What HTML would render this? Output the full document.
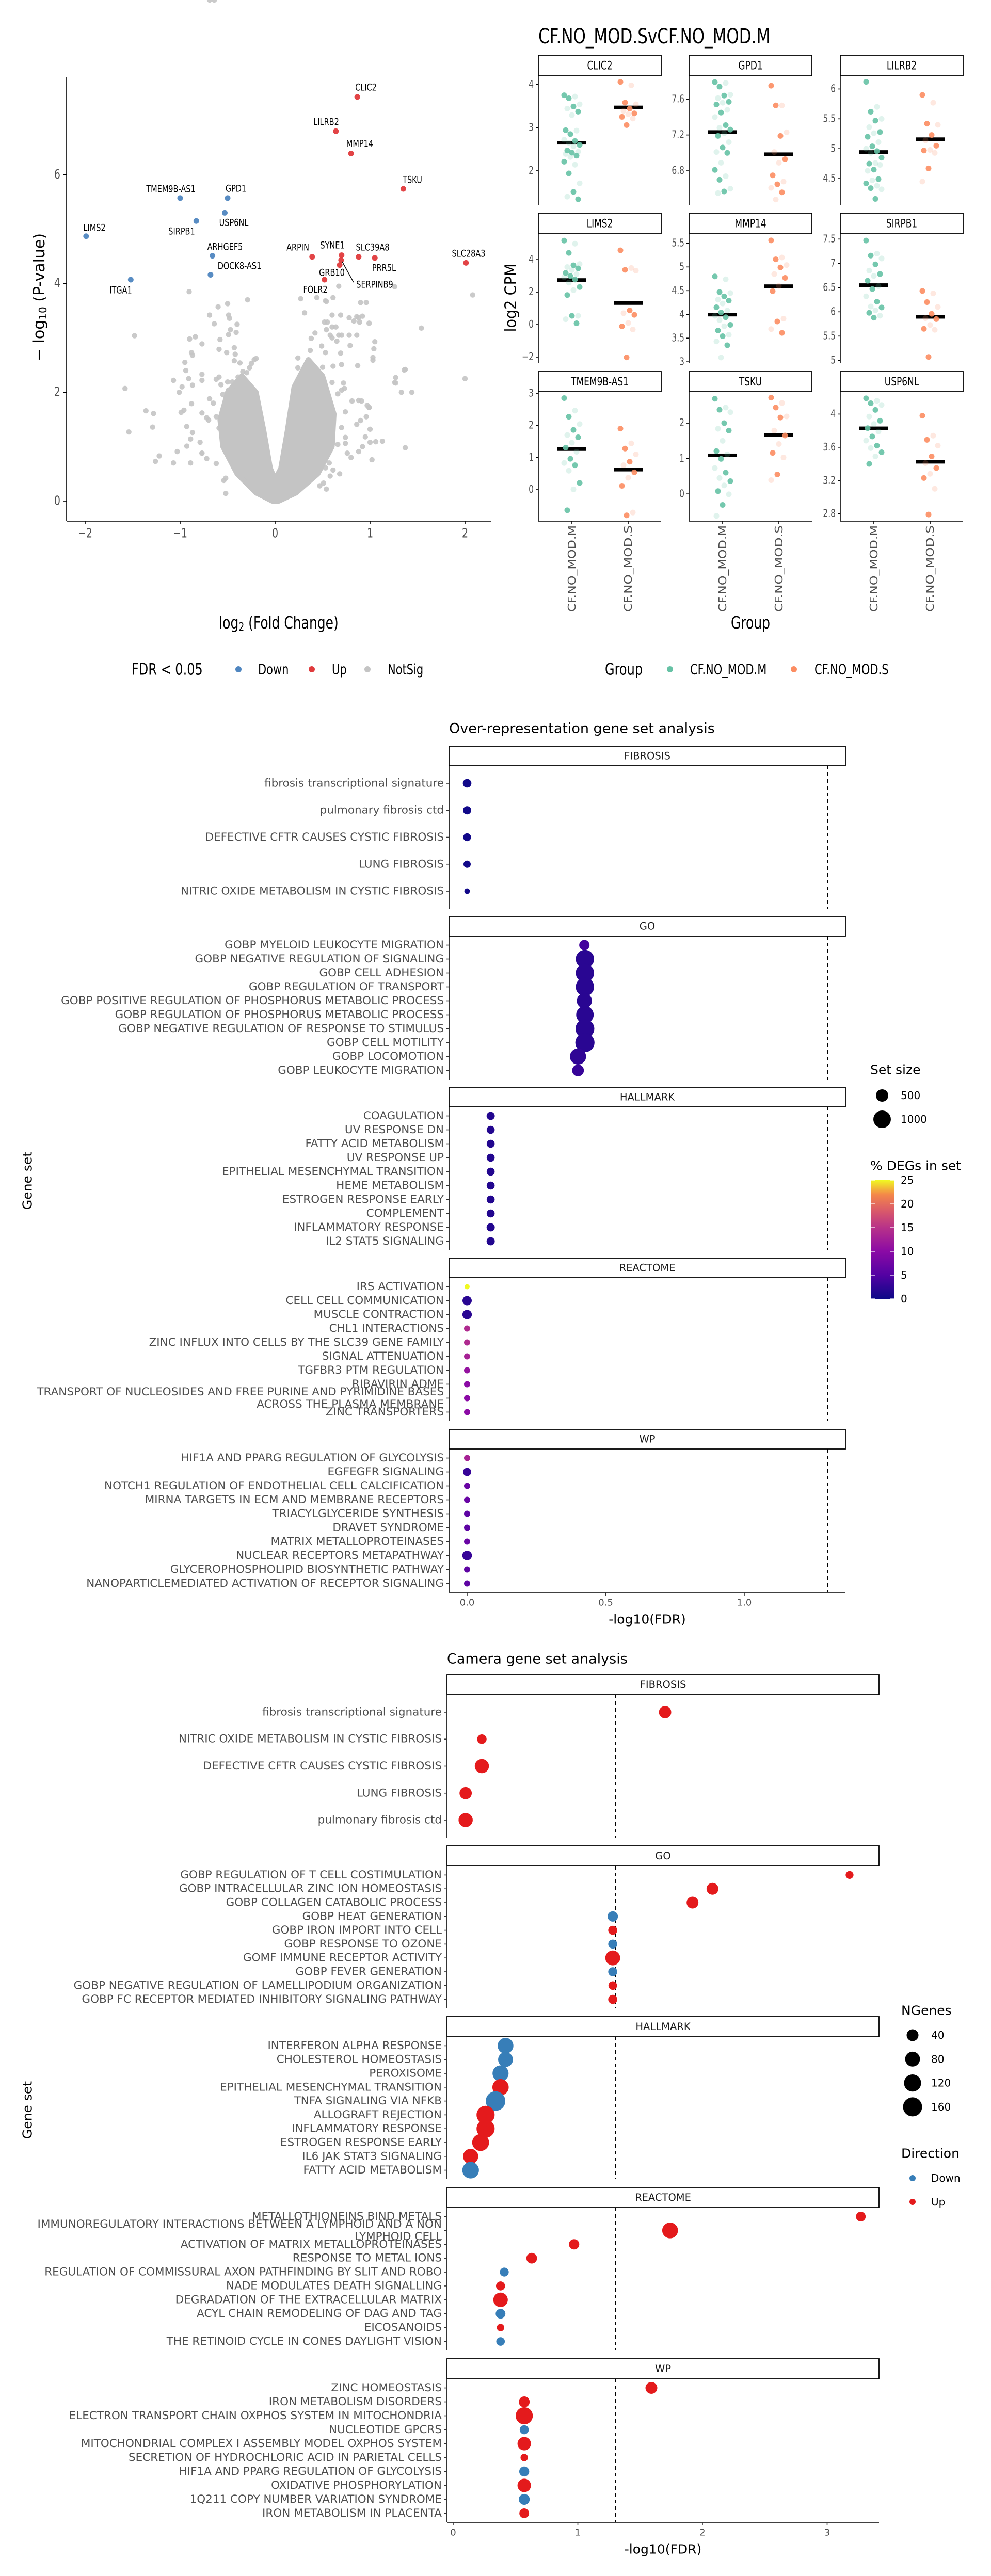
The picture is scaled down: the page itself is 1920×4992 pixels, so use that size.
<!DOCTYPE html>
<html><head><meta charset="utf-8">
<style>
html,body{margin:0;padding:0;background:#fff;}
svg{display:block;font-family:"DejaVu Sans","Liberation Sans",sans-serif;}
</style></head>
<body>
<svg id="fig" xmlns="http://www.w3.org/2000/svg" width="1920" height="4992" viewBox="0 0 1920 4992">
<rect x="0" y="0" width="1920" height="4992" fill="#ffffff"/>
<defs>
<linearGradient id="plasma" x1="0" y1="1" x2="0" y2="0">
<stop offset="0" stop-color="#0d0887"/><stop offset="0.2" stop-color="#5302a3"/><stop offset="0.4" stop-color="#8b0aa5"/><stop offset="0.6" stop-color="#b83289"/><stop offset="0.75" stop-color="#db5c68"/><stop offset="0.88" stop-color="#f48849"/><stop offset="1" stop-color="#f0f921"/>
</linearGradient>
</defs>
</svg>
<script>
// ---------------- DATA: volcano ----------------
const volSigNames=['LIMS2','ITGA1','TMEM9B-AS1','SIRPB1','GPD1','USP6NL','ARHGEF5','DOCK8-AS1','CLIC2','LILRB2','MMP14','TSKU','SLC28A3','ARPIN','SYNE1','SLC39A8','PRR5L','GRB10','SERPINB9','FOLR2'];
const volSigFC=[-1.99,-1.52,-1.0,-0.83,-0.50,-0.53,-0.66,-0.68,0.865,0.64,0.80,1.35,2.01,0.39,0.70,0.88,1.05,0.695,0.68,0.52];
const volSigP=[4.87,4.07,5.57,5.15,5.57,5.30,4.51,4.16,7.43,6.80,6.39,5.74,4.38,4.49,4.52,4.49,4.47,4.43,4.34,4.07];
const volSigDir=['Down','Down','Down','Down','Down','Down','Down','Down','Up','Up','Up','Up','Up','Up','Up','Up','Up','Up','Up','Up'];
const volNsFC=[-0.905,-1.48,-1.58,-1.54,-1.36,-1.28,-1.29,-1.22,-1.26,-1.07,-1.03,-1.07,-1.01,-0.98,-0.95,-0.94,-0.88,-0.99,-0.96,-0.93,-0.87,-0.89,-0.89,-0.93,-0.79,-0.77,-0.77,-0.72,-0.62,-0.77,-0.72,-0.70,-0.77,-0.77,-0.84,-0.90,-0.88,-0.87,-0.77,-0.69,-0.64,-0.60,-0.50,-0.49,-0.48,-0.40,-0.41,-0.47,-0.49,-0.58,-0.59,-0.51,-0.43,-0.42,-0.43,-0.37,-0.29,-0.91,-0.87,
0.27,0.31,0.44,0.53,0.54,0.61,0.67,0.60,0.52,0.55,0.60,0.64,0.69,0.78,0.83,0.86,0.88,0.90,0.96,0.99,0.89,0.92,0.78,0.86,0.70,0.67,0.65,0.60,0.58,0.54,0.42,0.38,0.37,1.05,1.04,1.03,1.03,0.79,0.69,0.70,0.87,1.26,1.54,1.37,1.36,1.27,1.26,1.27,1.44,1.33,2.08,2.0,1.37,1.02,0.92,0.95,1.0,1.06,1.13,0.88,0.80,0.76,0.74,0.66,0.68,0.54,0.40,0.90,0.96,0.91,0.88,0.97,0.99,0.99,1.0,0.86,0.74,0.81,0.73,0.70,0.74,0.61,0.61,0.51,0.58,0.57,0.53,0.49,0.24,0.24,0.28,0.31,0.40,0.50,0.61,0.72,0.70,0.66,0.60,0.53,0.47,
-0.54,-0.52,-0.52,-0.37,-0.41,-0.45,-0.52,-0.59,-0.55,-0.62,-0.65,-0.69,-0.55,-0.49,-0.42,-0.35,-0.30,-0.25,-0.22,-0.20,-0.27,-0.34,-0.39,-0.45,-0.50,-0.49,-0.57,-0.59,-0.62,-0.64,-0.69];
const volNsP=[3.85,3.04,2.07,1.27,1.66,1.61,1.36,0.83,0.73,0.70,0.91,2.22,2.0,2.10,2.55,2.40,1.79,1.63,1.67,1.37,1.26,1.14,0.70,1.01,1.08,0.88,0.88,0.78,0.69,1.62,1.53,1.49,2.22,2.33,3.02,2.98,2.73,2.68,2.89,3.42,3.26,3.57,3.63,3.42,3.36,3.25,3.10,3.15,3.06,2.97,2.79,2.73,2.82,2.70,2.58,2.54,3.70,2.25,2.13,
3.72,3.46,3.74,3.68,3.67,3.74,3.95,3.42,3.29,3.29,3.20,3.20,3.42,3.37,3.31,3.39,3.37,3.65,3.65,3.27,3.29,3.40,3.05,3.05,3.05,3.05,2.94,3.00,3.05,3.15,3.09,2.99,2.77,2.93,2.80,2.64,2.59,2.86,2.72,2.51,2.49,3.94,3.18,2.42,2.41,2.27,2.18,2.17,2.00,2.00,3.79,2.25,0.98,0.76,1.00,1.18,1.08,1.09,1.10,0.91,0.80,0.88,1.06,1.04,0.50,0.22,0.59,1.48,1.55,1.84,1.85,1.76,1.72,1.72,1.32,1.41,1.64,1.84,2.07,1.35,1.17,1.06,0.57,0.33,0.46,0.70,2.73,2.85,2.63,2.45,2.37,2.40,2.45,2.46,2.48,2.17,2.04,1.97,2.18,
0.61,0.28,0.38,0.14,0.42,0.64,0.82,1.04,1.22,1.34,1.47,1.55,1.80,1.88,1.96,2.04,2.12,2.24,2.36,2.53,2.60,2.62,2.45,2.38,2.28,2.19,2.19,2.04,2.14,2.28,2.24];
const volCore=[[-0.03,0],[-0.2,0.15],[-0.4,0.5],[-0.55,1.0],[-0.58,1.5],[-0.5,2.0],[-0.35,2.3],[-0.2,2.0],[-0.12,1.3],[-0.05,0.6],[0,0.4],[0.06,0.6],[0.13,1.3],[0.2,2.1],[0.35,2.6],[0.5,2.3],[0.62,1.6],[0.6,1.0],[0.45,0.5],[0.22,0.15],[0.04,0]];
const volXTicks=[-2,-1,0,1,2];
const volYTicks=[0,2,4,6];

// ---------------- DATA: strip plots ----------------
const stripGenes=['CLIC2','GPD1','LILRB2','LIMS2','MMP14','SIRPB1','TMEM9B-AS1','TSKU','USP6NL'];
const stripDomain=[[1.21,4.2],[6.42,7.86],[4.06,6.22],[-2.35,5.59],[2.98,5.70],[4.95,7.61],[-0.98,3.05],[-0.77,2.89],[2.71,4.27]];
const stripTicks=[[2,3,4],[6.8,7.2,7.6],[4.5,5.0,5.5,6.0],[-2,0,2,4],[3.0,3.5,4.0,4.5,5.0,5.5],[5.0,5.5,6.0,6.5,7.0,7.5],[0,1,2,3],[0,1,2],[2.8,3.2,3.6,4.0]];
const stripM=[
[3.75,3.72,3.68,3.54,3.49,3.44,3.37,3.29,2.94,2.93,2.85,2.72,2.69,2.65,2.60,2.57,2.47,2.44,2.42,2.39,2.35,2.32,2.21,2.14,1.94,1.71,1.51,1.40,1.34],
[7.79,7.78,7.74,7.65,7.64,7.61,7.57,7.56,7.54,7.48,7.45,7.40,7.31,7.28,7.26,7.22,7.19,7.12,7.06,7.01,7.00,6.89,6.81,6.74,6.70,6.60,6.57,6.55],
[6.12,5.70,5.62,5.50,5.47,5.36,5.28,5.26,5.20,5.11,5.04,5.00,4.96,4.93,4.85,4.76,4.75,4.73,4.65,4.63,4.49,4.47,4.42,4.38,4.34,4.32,4.16],
[5.17,4.98,4.41,3.73,3.65,3.54,3.46,3.35,3.18,3.10,2.99,2.91,2.77,2.58,2.31,2.12,1.82,0.54,0.54,0.33,0.08],
[4.80,4.74,4.47,4.45,4.38,4.31,4.29,4.23,4.15,4.08,4.04,3.97,3.94,3.88,3.78,3.75,3.66,3.57,3.54,3.43,3.35,3.09],
[7.47,7.20,7.16,7.10,6.98,6.85,6.78,6.74,6.64,6.53,6.47,6.32,6.21,6.11,6.09,6.03,5.98,5.92,5.88],
[2.85,2.46,2.27,2.04,1.86,1.70,1.63,1.46,1.31,1.18,0.96,0.83,0.76,0.59,0.21,0.01,-0.64],
[2.69,2.44,2.38,2.31,2.0,1.84,1.79,1.50,1.21,1.12,0.99,0.73,0.60,0.45,0.36,0.24,0.08,-0.01,-0.31,-0.62],
[4.19,4.16,4.13,4.11,4.05,3.97,3.92,3.88,3.83,3.79,3.73,3.68,3.62,3.59,3.54,3.49,3.40]];
const stripS=[
[4.06,3.98,3.58,3.54,3.44,3.39,3.33,3.31,3.25,3.21,3.06],
[7.75,7.53,7.53,7.23,7.19,7.01,6.93,6.89,6.75,6.68,6.65,6.61,6.56,6.48],
[5.90,5.77,5.42,5.40,5.23,5.14,5.05,4.98,4.97,4.93,4.67,4.45],
[4.57,3.48,3.37,3.32,0.87,0.70,0.60,0.10,-0.11,-0.30,-2.02],
[5.56,5.20,5.16,5.04,4.99,4.85,4.77,4.60,4.49,3.91,3.85,3.69,3.61],
[6.43,6.38,6.20,6.10,5.96,5.87,5.85,5.73,5.65,5.63,5.07],
[1.90,1.44,1.28,1.10,0.87,0.76,0.54,0.37,0.12,-0.71,-0.80],
[2.72,2.57,2.44,2.19,2.16,1.79,1.65,1.41,1.16,1.03,0.55,0.39],
[3.98,3.74,3.69,3.62,3.49,3.41,3.35,3.28,3.23,3.10,2.79]];
const stripGroups=['CF.NO_MOD.M','CF.NO_MOD.S'];

// ---------------- DATA: ORA ----------------
const oraFacets=['FIBROSIS','GO','HALLMARK','REACTOME','WP'];
const oraLabels=[
['fibrosis transcriptional signature','pulmonary fibrosis ctd','DEFECTIVE CFTR CAUSES CYSTIC FIBROSIS','LUNG FIBROSIS','NITRIC OXIDE METABOLISM IN CYSTIC FIBROSIS'],
['GOBP MYELOID LEUKOCYTE MIGRATION','GOBP NEGATIVE REGULATION OF SIGNALING','GOBP CELL ADHESION','GOBP REGULATION OF TRANSPORT','GOBP POSITIVE REGULATION OF PHOSPHORUS METABOLIC PROCESS','GOBP REGULATION OF PHOSPHORUS METABOLIC PROCESS','GOBP NEGATIVE REGULATION OF RESPONSE TO STIMULUS','GOBP CELL MOTILITY','GOBP LOCOMOTION','GOBP LEUKOCYTE MIGRATION'],
['COAGULATION','UV RESPONSE DN','FATTY ACID METABOLISM','UV RESPONSE UP','EPITHELIAL MESENCHYMAL TRANSITION','HEME METABOLISM','ESTROGEN RESPONSE EARLY','COMPLEMENT','INFLAMMATORY RESPONSE','IL2 STAT5 SIGNALING'],
['IRS ACTIVATION','CELL CELL COMMUNICATION','MUSCLE CONTRACTION','CHL1 INTERACTIONS','ZINC INFLUX INTO CELLS BY THE SLC39 GENE FAMILY','SIGNAL ATTENUATION','TGFBR3 PTM REGULATION','RIBAVIRIN ADME','TRANSPORT OF NUCLEOSIDES AND FREE PURINE AND PYRIMIDINE BASES\nACROSS THE PLASMA MEMBRANE','ZINC TRANSPORTERS'],
['HIF1A AND PPARG REGULATION OF GLYCOLYSIS','EGFEGFR SIGNALING','NOTCH1 REGULATION OF ENDOTHELIAL CELL CALCIFICATION','MIRNA TARGETS IN ECM AND MEMBRANE RECEPTORS','TRIACYLGLYCERIDE SYNTHESIS','DRAVET SYNDROME','MATRIX METALLOPROTEINASES','NUCLEAR RECEPTORS METAPATHWAY','GLYCEROPHOSPHOLIPID BIOSYNTHETIC PATHWAY','NANOPARTICLEMEDIATED ACTIVATION OF RECEPTOR SIGNALING']];
const oraFDR=[[0,0,0,0,0],[0.423,0.425,0.425,0.425,0.423,0.425,0.425,0.425,0.40,0.40],[0.085,0.085,0.085,0.085,0.085,0.085,0.085,0.085,0.085,0.085],[0,0,0,0,0,0,0,0,0,0],[0,0,0,0,0,0,0,0,0,0]];
const oraSize=[[240,220,200,170,100],[350,1100,1100,1100,750,1000,1150,1200,850,450],[220,210,210,210,210,210,210,210,220,220],[85,280,290,125,125,125,125,125,125,125],[125,220,125,125,125,125,125,300,125,125]];
const oraPct=[[0.3,0.3,0.3,0.3,0.3],[4,2,2,2,2,2,2,2,2.5,3],[1.5,1.5,1.5,1.5,1.5,1.5,1.5,1.5,1.5,1.5],[25,2,2,14,14,13,11,10,10,10],[13,3,7,7,6,6,7,3,6,6]];
const oraXTicks=[0,0.5,1.0];
const pctTicks=[0,5,10,15,20,25];
const oraSizeLegend=[500,1000];

// ---------------- DATA: Camera ----------------
const camLabels=[
['fibrosis transcriptional signature','NITRIC OXIDE METABOLISM IN CYSTIC FIBROSIS','DEFECTIVE CFTR CAUSES CYSTIC FIBROSIS','LUNG FIBROSIS','pulmonary fibrosis ctd'],
['GOBP REGULATION OF T CELL COSTIMULATION','GOBP INTRACELLULAR ZINC ION HOMEOSTASIS','GOBP COLLAGEN CATABOLIC PROCESS','GOBP HEAT GENERATION','GOBP IRON IMPORT INTO CELL','GOBP RESPONSE TO OZONE','GOMF IMMUNE RECEPTOR ACTIVITY','GOBP FEVER GENERATION','GOBP NEGATIVE REGULATION OF LAMELLIPODIUM ORGANIZATION','GOBP FC RECEPTOR MEDIATED INHIBITORY SIGNALING PATHWAY'],
['INTERFERON ALPHA RESPONSE','CHOLESTEROL HOMEOSTASIS','PEROXISOME','EPITHELIAL MESENCHYMAL TRANSITION','TNFA SIGNALING VIA NFKB','ALLOGRAFT REJECTION','INFLAMMATORY RESPONSE','ESTROGEN RESPONSE EARLY','IL6 JAK STAT3 SIGNALING','FATTY ACID METABOLISM'],
['METALLOTHIONEINS BIND METALS','IMMUNOREGULATORY INTERACTIONS BETWEEN A LYMPHOID AND A NON\nLYMPHOID CELL','ACTIVATION OF MATRIX METALLOPROTEINASES','RESPONSE TO METAL IONS','REGULATION OF COMMISSURAL AXON PATHFINDING BY SLIT AND ROBO','NADE MODULATES DEATH SIGNALLING','DEGRADATION OF THE EXTRACELLULAR MATRIX','ACYL CHAIN REMODELING OF DAG AND TAG','EICOSANOIDS','THE RETINOID CYCLE IN CONES DAYLIGHT VISION'],
['ZINC HOMEOSTASIS','IRON METABOLISM DISORDERS','ELECTRON TRANSPORT CHAIN OXPHOS SYSTEM IN MITOCHONDRIA','NUCLEOTIDE GPCRS','MITOCHONDRIAL COMPLEX I ASSEMBLY MODEL OXPHOS SYSTEM','SECRETION OF HYDROCHLORIC ACID IN PARIETAL CELLS','HIF1A AND PPARG REGULATION OF GLYCOLYSIS','OXIDATIVE PHOSPHORYLATION','1Q211 COPY NUMBER VARIATION SYNDROME','IRON METABOLISM IN PLACENTA']];
const camFDR=[[1.70,0.23,0.23,0.10,0.10],[3.18,2.08,1.92,1.28,1.28,1.28,1.28,1.28,1.28,1.28],[0.42,0.42,0.38,0.38,0.34,0.26,0.26,0.22,0.14,0.14],[3.27,1.74,0.97,0.63,0.41,0.38,0.38,0.38,0.38,0.38],[1.59,0.57,0.57,0.57,0.57,0.57,0.57,0.57,0.57,0.57]];
const camN=[[45,18,70,45,70],[8,40,40,25,15,15,80,15,12,15],[95,80,100,105,170,140,140,115,85,110],[20,95,25,28,14,15,75,20,6,12],[40,30,120,15,60,6,22,60,30,20]];
const camDir=[['Up','Up','Up','Up','Up'],['Up','Up','Up','Down','Up','Down','Up','Down','Up','Up'],['Down','Down','Down','Up','Down','Up','Up','Up','Up','Down'],['Up','Up','Up','Up','Down','Up','Up','Down','Up','Down'],['Up','Up','Up','Down','Up','Up','Down','Up','Down','Up']];
const camXTicks=[0,1,2,3];
const camNLegend=[40,80,120,160];
const dirLevels=['Down','Up'];

// ---------------- helpers ----------------
const NS='http://www.w3.org/2000/svg';
const svg=document.getElementById('fig');
function el(tag,attrs,nm,parent){
  const e=document.createElementNS(NS,tag);
  for(const k in attrs)e.setAttribute(k,attrs[k]);
  
  
  (parent||svg).appendChild(e);return e;
}
function txt(x,y,s,size,nm,o){
  o=o||{};
  const e=el('text',{x:0,y:0,'font-size':size,'text-anchor':o.anchor||'start',fill:o.fill||'#000','dominant-baseline':'central',
    transform:'translate('+x+','+y+') rotate('+(o.rot||0)+') scale(1,'+(o.sy||1)+')'},nm);
  if(o.len){e.setAttribute('textLength',o.len);e.setAttribute('lengthAdjust','spacingAndGlyphs');}
  e.textContent=s;return e;
}
function line(x1,y1,x2,y2,nm,o){o=o||{};return el('line',{x1:x1,y1:y1,x2:x2,y2:y2,stroke:o.stroke||'#000','stroke-width':o.w||1.6,'stroke-dasharray':o.dash||'none'},nm);}
function circ(x,y,r,fill,nm,op){return el('circle',{cx:x,cy:y,r:r,fill:fill,'fill-opacity':op==null?1:op},nm);}
function fmt(v){return (Math.abs(v)<1e-9?0:v).toString().replace('-','\u2212');}

// ---------------- volcano ----------------
const VX0=533,VXU=184,VY0=971,VYU=105.4;
const vx=v=>VX0+VXU*v, vy=v=>VY0-VYU*v;
const SY=1.3;
el('polygon',{points:volCore.map(p=>vx(p[0])+','+vy(p[1])).join(' '),fill:'#c4c4c4',stroke:'#c4c4c4','stroke-width':10,'stroke-linejoin':'round'},'volcano-notsig-core');
volNsFC.forEach((f,i)=>{circ(vx(f),vy(volNsP[i]),5.2,'#c4c4c4','volcano-point-notsig',0.9);});
const volCol={Down:'#4f86c0',Up:'#e03a3c'};
volSigFC.forEach((f,i)=>{circ(vx(f),vy(volSigP[i]),5.5,volCol[volSigDir[i]],'volcano-point-'+volSigNames[i].toLowerCase(),0.95);});
const volLabPos={'CLIC2':[709,169],'LILRB2':[632,236],'MMP14':[697,278],'TSKU':[799,348],'SLC28A3':[908,491],'ARPIN':[577,479],'SYNE1':[644,475],'SLC39A8':[722,479],'PRR5L':[744,519],'GRB10':[643,528],'SERPINB9':[726,551],'FOLR2':[611,561],'LIMS2':[183,441],'ITGA1':[234,562],'TMEM9B-AS1':[331,366],'SIRPB1':[352,448],'GPD1':[457,365],'USP6NL':[453,431],'ARHGEF5':[436,478],'DOCK8-AS1':[464,515]};
line(663,507,685,547,'serpinb9-leader-line',{w:1.5});
volSigNames.forEach(n=>{const p=volLabPos[n];txt(p[0],p[1],n,14.5,'volcano-label-'+n.toLowerCase(),{anchor:'middle',sy:SY});});
line(129,149,129,1010,'volcano-y-axis-line');
line(129,1010,952,1010,'volcano-x-axis-line');
volXTicks.forEach(t=>{line(vx(t),1010,vx(t),1016,'volcano-x-tick');txt(vx(t),1034,fmt(t),19,'volcano-x-tick-label',{anchor:'middle',fill:'#4d4d4d',sy:SY});});
volYTicks.forEach(t=>{line(123,vy(t),129,vy(t),'volcano-y-tick');txt(117,vy(t),fmt(t),19,'volcano-y-tick-label',{anchor:'end',fill:'#4d4d4d',sy:SY});});
(function(){const e=txt(540,1207,'',25,'volcano-x-axis-title',{anchor:'middle',sy:SY});e.innerHTML='log<tspan font-size="17" dy="6">2</tspan><tspan dy="-6"> (Fold Change)</tspan>';})();
(function(){const e=txt(76,576,'',30,'volcano-y-axis-title',{anchor:'middle',rot:-90});e.innerHTML='\u2212 log<tspan font-size="20" dy="7">10</tspan><tspan dy="-7"> (P-value)</tspan>';})();
txt(255,1297,'FDR < 0.05',24,'volcano-legend-title',{sy:SY});
[['Down','#4f86c0',462,500],['Up','#e03a3c',604,643],['NotSig','#c4c4c4',712,751]].forEach(d=>{circ(d[2],1297,6,d[1],'volcano-legend-key-'+d[0].toLowerCase());txt(d[3],1297,d[0],21,'volcano-legend-label-'+d[0].toLowerCase(),{sy:SY});});

// ---------------- strip plots ----------------
txt(1043,71,'CF.NO_MOD.SvCF.NO_MOD.M',31,'strip-figure-title',{sy:SY});
const colX=[1043,1335,1628],PW=238,stripTop=[107,413,720],stripBot=[147,453,759],plotBot=[397,703,1010];
const grpOff=[65,174],grpCol=['#66c2a5','#fc8d62'];
stripGenes.forEach((g,k)=>{
  const c=k%3,r=Math.floor(k/3),x0=colX[c];
  const d=stripDomain[k],top=stripBot[r],bot=plotBot[r];
  const sy=v=>bot-(v-d[0])/(d[1]-d[0])*(bot-top);
  el('rect',{x:x0,y:stripTop[r],width:PW,height:stripBot[r]-stripTop[r],fill:'#fff',stroke:'#000','stroke-width':1.8},'strip-header-'+g.toLowerCase());
  txt(x0+PW/2,(stripTop[r]+stripBot[r])/2,g,17,'strip-header-label-'+g.toLowerCase(),{anchor:'middle',sy:SY});
  line(x0,top,x0,bot,'strip-y-axis-'+g.toLowerCase());
  stripTicks[k].forEach(t=>{line(x0-5,sy(t),x0,sy(t),'strip-y-tick');txt(x0-9,sy(t),fmt(t),15.5,'strip-y-tick-label',{anchor:'end',fill:'#4d4d4d',sy:SY});});
  [stripM[k],stripS[k]].forEach((arr,gi)=>{
    const cx=x0+grpOff[gi];
    const mean=arr.reduce((a,b)=>a+b,0)/arr.length;
    el('rect',{x:cx-28,y:sy(mean)-3.5,width:56,height:7,fill:'#000'},'strip-mean-bar');
    arr.forEach((v,i)=>{const dx=((i*7)%11-5)*3.0;circ(cx+dx,sy(v),5.5,grpCol[gi],'strip-point',i%2?0.2:0.9);});
  });
  if(r===2){
    line(x0,bot,x0+PW,bot,'strip-x-axis-'+g.toLowerCase());
    stripGroups.forEach((gn,gi)=>{const cx=x0+grpOff[gi];line(cx,bot,cx,bot+6,'strip-x-tick');txt(cx,1018,gn,20,'strip-x-tick-label',{anchor:'end',rot:-90,fill:'#4d4d4d',len:168});});
  }
});
txt(1454,1207,'Group',25,'strip-x-axis-title',{anchor:'middle',sy:SY});
txt(990,577,'log2 CPM',30,'strip-y-axis-title',{anchor:'middle',rot:-90,len:133});
txt(1172,1297,'Group',24,'strip-legend-title',{sy:SY});
circ(1298,1297,6,grpCol[0],'strip-legend-key-m');txt(1337,1297,stripGroups[0],21,'strip-legend-label-m',{sy:SY});
circ(1538,1297,6,grpCol[1],'strip-legend-key-s');txt(1578,1297,stripGroups[1],21,'strip-legend-label-s',{sy:SY});

// ---------------- facet dot charts ----------------
const plasmaStops=[[0,[13,8,135]],[0.2,[83,2,163]],[0.4,[139,10,165]],[0.6,[184,50,137]],[0.75,[219,92,104]],[0.88,[244,136,73]],[1,[240,249,33]]];
function plasma(t){t=Math.max(0,Math.min(1,t));for(let i=1;i<plasmaStops.length;i++){if(t<=plasmaStops[i][0]){const a=plasmaStops[i-1],b=plasmaStops[i],f=(t-a[0])/(b[0]-a[0]);return 'rgb('+a[1].map((v,j)=>Math.round(v+(b[1][j]-v)*f)).join(',')+')';}}return 'rgb(240,249,33)';}
function facetChart(cfg){
  txt(cfg.left,cfg.titleY,cfg.title,27,cfg.id+'-title');
  const X=v=>cfg.x0+cfg.xu*v;
  cfg.tops.forEach((st,p)=>{
    const sb=st+cfg.sh,bot=cfg.bots[p],labs=cfg.labels[p],n=labs.length;
    el('rect',{x:cfg.left,y:st,width:cfg.right-cfg.left,height:cfg.sh,fill:'#fff',stroke:'#000','stroke-width':1.8},cfg.id+'-strip-'+oraFacets[p].toLowerCase());
    txt((cfg.left+cfg.right)/2,st+cfg.sh/2,oraFacets[p],19.5,cfg.id+'-strip-label-'+oraFacets[p].toLowerCase(),{anchor:'middle',fill:'#1a1a1a'});
    line(cfg.left,sb,cfg.left,bot,cfg.id+'-y-axis');
    line(X(1.30103),sb,X(1.30103),bot,cfg.id+'-fdr-threshold-line',{dash:'7,6',w:1.8});
    const step=(bot-sb)/(n-1+1.3);
    labs.forEach((lab,i)=>{
      const y=sb+(i+0.65)*step;
      line(cfg.left-6,y,cfg.left,y,cfg.id+'-y-tick',{stroke:'#333'});
      const parts=lab.split('\n');
      parts.forEach((pt,j)=>txt(cfg.left-10,y+(j-(parts.length-1)/2)*24,pt,21.5,cfg.id+'-y-tick-label',{anchor:'end',fill:'#4d4d4d'}));
      circ(X(cfg.xs[p][i]),y,cfg.rad(p,i),cfg.col(p,i),cfg.id+'-dot');
    });
    if(p===cfg.tops.length-1){
      line(cfg.left,bot,cfg.right,bot,cfg.id+'-x-axis');
      cfg.ticks.forEach(t=>{line(X(t),bot,X(t),bot+6,cfg.id+'-x-tick',{stroke:'#333'});txt(X(t),bot+20,t.toFixed(cfg.dec),18,cfg.id+'-x-tick-label',{anchor:'middle',fill:'#4d4d4d'});});
      txt((cfg.left+cfg.right)/2,bot+52,'-log10(FDR)',25,cfg.id+'-x-axis-title',{anchor:'middle'});
    }
  });
  txt(53,cfg.ylabY,'Gene set',25,cfg.id+'-y-axis-title',{anchor:'middle',rot:-90});
}
const oraR=s=>0.537*Math.sqrt(s);
facetChart({id:'ora',title:'Over-representation gene set analysis',titleY:1412,left:870,right:1638,x0:905,xu:537,
  tops:[1446,1776,2107,2438,2770],sh:38,bots:[1761,2092,2423,2754,3086],labels:oraLabels,xs:oraFDR,
  rad:(p,i)=>oraR(oraSize[p][i]),col:(p,i)=>plasma(oraPct[p][i]/25),ticks:oraXTicks,dec:1,ylabY:2288});
txt(1686,2073,'Set size',25,'ora-size-legend-title');
oraSizeLegend.forEach((s,i)=>{const y=2123+i*46;circ(1709,y,oraR(s),'#000','ora-size-legend-key');txt(1745,y,String(s),20,'ora-size-legend-label');});
txt(1686,2259,'% DEGs in set',25,'ora-color-legend-title');
el('rect',{x:1687,y:2287,width:46,height:230,fill:'url(#plasma)'},'ora-colorbar');
pctTicks.forEach(t=>{const y=2517-t/25*230;line(1687,y,1695,y,'ora-colorbar-tick',{stroke:'#fff',w:1.2});line(1725,y,1733,y,'ora-colorbar-tick',{stroke:'#fff',w:1.2});txt(1745,y,String(t),20,'ora-colorbar-label');});

const camR=n=>4.5+1.106*Math.sqrt(n);
const dirCol={Down:'#377eb8',Up:'#e41a1c'};
facetChart({id:'camera',title:'Camera gene set analysis',titleY:3215,left:866,right:1703,x0:878,xu:241.5,
  tops:[3245,3577,3908,4239,4571],sh:39,bots:[3561,3892,4223,4555,4888],labels:camLabels,xs:camFDR,
  rad:(p,i)=>camR(camN[p][i]),col:(p,i)=>dirCol[camDir[p][i]],ticks:camXTicks,dec:0,ylabY:4089});
txt(1746,3896,'NGenes',25,'camera-size-legend-title');
camNLegend.forEach((n,i)=>{const y=3944+i*46.3;circ(1768,y,camR(n),'#000','camera-size-legend-key');txt(1804,y,String(n),20,'camera-size-legend-label');});
txt(1746,4173,'Direction',25,'camera-direction-legend-title');
dirLevels.forEach((d,i)=>{const y=4221+i*46;circ(1768,y,6,dirCol[d],'camera-direction-legend-key');txt(1804,y,d,20,'camera-direction-legend-label');});
</script>
</body></html>
